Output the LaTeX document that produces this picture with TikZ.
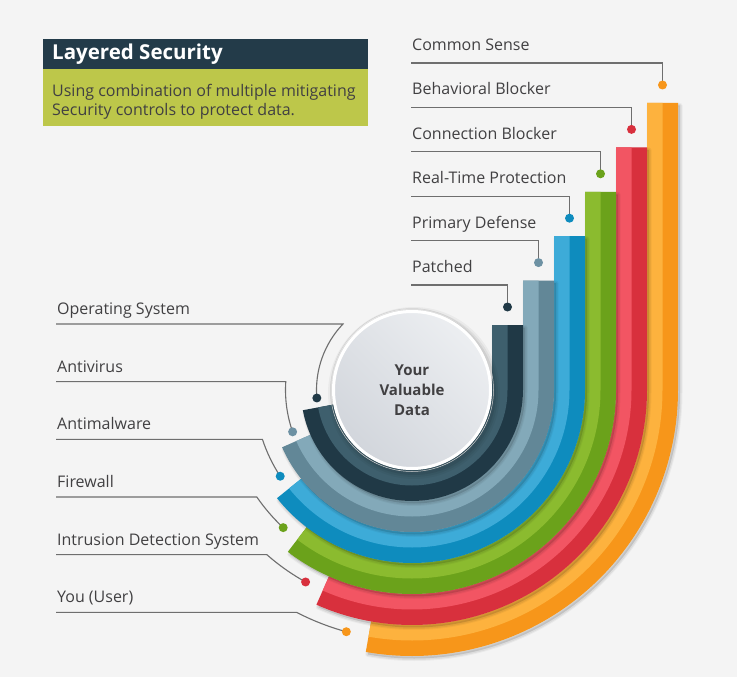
\documentclass[tikz,border=0pt]{standalone}
\usepackage{fontspec}
\setmainfont{Open Sans}
\definecolor{bg}{HTML}{F4F4F4}
\definecolor{nvL}{HTML}{3E5F6D}\definecolor{nvD}{HTML}{203946}
\definecolor{gbL}{HTML}{83A9B9}\definecolor{gbD}{HTML}{628797}
\definecolor{blL}{HTML}{3DABD8}\definecolor{blD}{HTML}{0E8CBE}
\definecolor{grL}{HTML}{8BBB2F}\definecolor{grD}{HTML}{6BA21B}
\definecolor{rdL}{HTML}{F25563}\definecolor{rdD}{HTML}{D8303D}
\definecolor{orL}{HTML}{FDB23E}\definecolor{orD}{HTML}{F7961A}
\definecolor{gbDot}{HTML}{6D91A3}
\definecolor{leadc}{HTML}{6E6E6E}
\definecolor{labc}{HTML}{414042}
\definecolor{titlebg}{HTML}{233B49}
\definecolor{subbg}{HTML}{BDC74A}
\definecolor{circL}{HTML}{ECEEF1}
\definecolor{circD}{HTML}{D2D6DC}
\newcommand\bandpath[4]{({412+#1},#4) -- ({412+#1},-390)
   arc[start angle=360, end angle=#3, radius=#1]
   -- ({412+#2*cos(#3)},{-390+#2*sin(#3)})
   arc[start angle=#3, end angle=360, radius=#2]
   -- ({412+#2},#4) -- cycle}
\begin{document}
\begin{tikzpicture}[x=1pt,y=1pt,
  leader/.style={draw=leadc, line width=1.1pt},
  lbl/.style={inner sep=0pt, text=labc, font=\fontsize{16}{19}\selectfont, anchor=base west},
  dotnode/.style={circle, inner sep=0pt, minimum size=9pt, fill=#1},
  shadowlayer/.style={black, opacity=#1}]
\fill[bg] (0,0) rectangle (737,-677);
\useasboundingbox (0,0) rectangle (737,-677);

% title box
\fill[titlebg] (43,-39) rectangle (368,-69);
\fill[subbg] (43,-69) rectangle (368,-126);
\node[anchor=west, inner sep=0pt, text=white, font=\bfseries\fontsize{20.5}{24}\selectfont] (title) at (52,-54) {Layered Security};
\node[lbl, font=\fontsize{16}{20}\selectfont] (sub1) at (52,-96) {Using combination of multiple mitigating};
\node[lbl, font=\fontsize{16}{20}\selectfont] (sub2) at (52,-116) {Security controls to protect data.};

% bands (outermost first)
\foreach \i/\ea/\lc/\dc in {5/260/orL/orD, 4/246/rdL/rdD, 3/232.5/grL/grD, 2/218.7/blL/blD, 1/203.8/gbL/gbD, 0/190.5/nvL/nvD}{
  \pgfmathsetmacro\rin{80+31*\i}
  \pgfmathsetmacro\rout{\rin+31}
  \pgfmathsetmacro\rmid{\rin+15.5}
  \pgfmathsetmacro\btop{-(325-44.4*\i)}
  \begin{scope}[shift={(2,-2.5)}]
    \fill[shadowlayer=0.12] \bandpath{\rout}{\rin}{\ea}{\btop};
    \draw[shadowlayer=0.06, line width=3pt, line join=round] \bandpath{\rout}{\rin}{\ea}{\btop};
    \draw[shadowlayer=0.04, line width=5pt, line join=round] \bandpath{\rout}{\rin}{\ea}{\btop};
  \end{scope}
  \fill[\dc] \bandpath{\rout}{\rin}{\ea}{\btop};
  \fill[\lc] \bandpath{\rmid}{\rin}{\ea}{\btop};
}

% centre circle
\foreach \r/\o in {86/0.04, 84/0.05, 82/0.07}{
  \fill[shadowlayer=\o] (414,-393) circle[radius=\r];
}
\node[circle, inner sep=0pt, minimum size=157pt, shading=axis, top color=circL, bottom color=circD, shading angle=-45,
  draw=white, line width=3pt,
  text=labc, font=\bfseries\fontsize{15}{20}\selectfont, align=center] (data) at (412,-390) {Your\\Valuable\\Data};
\draw[draw=black!18, line width=0.5pt] (data.center) circle[radius=81.5];

% left labels
\foreach \i/\txt/\da/\dc in {0/Operating System/184.8/nvD, 1/Antivirus/199.3/gbDot, 2/Antimalware/213.2/blD, 3/Firewall/226.9/grD, 4/Intrusion Detection System/241/rdD, 5/You (User)/254.8/orD}{
  \pgfmathsetmacro\rmid{95.5+31*\i}
  \pgfmathsetmacro\ly{324+57.66*\i}
  \pgfmathsetmacro\sa{180-asin((390-\ly)/\rmid)}
  \node[lbl] (ll\i) at (57,{-\ly+9.5}) {\txt};
  \coordinate (dl\i) at ({412+\rmid*cos(\da)},{-390+\rmid*sin(\da)});
  \draw[leader] (ll\i.base west) ++(-1,-9.5) -- ({412+\rmid*cos(\sa)},{-\ly})
     arc[start angle=\sa, end angle=\da, radius=\rmid];
  \node[dotnode=\dc] (dln\i) at (dl\i) {};
}

% right labels
\foreach \i/\txt/\dc in {0/Patched/nvD, 1/Primary Defense/gbDot, 2/Real-Time Protection/blD, 3/Connection Blocker/grD, 4/Behavioral Blocker/rdD, 5/Common Sense/orD}{
  \pgfmathsetmacro\ly{285-44.4*\i}
  \pgfmathsetmacro\xc{507.5+31*\i}
  \node[lbl] (rl\i) at (412,{-\ly+12.5}) {\txt};
  \coordinate (dr\i) at (\xc,{-\ly-22});
  \draw[leader] (rl\i.base west) ++(-1,-12.5) -| (dr\i);
  \node[dotnode=\dc] (drn\i) at (dr\i) {};
}
\end{tikzpicture}
\end{document}
